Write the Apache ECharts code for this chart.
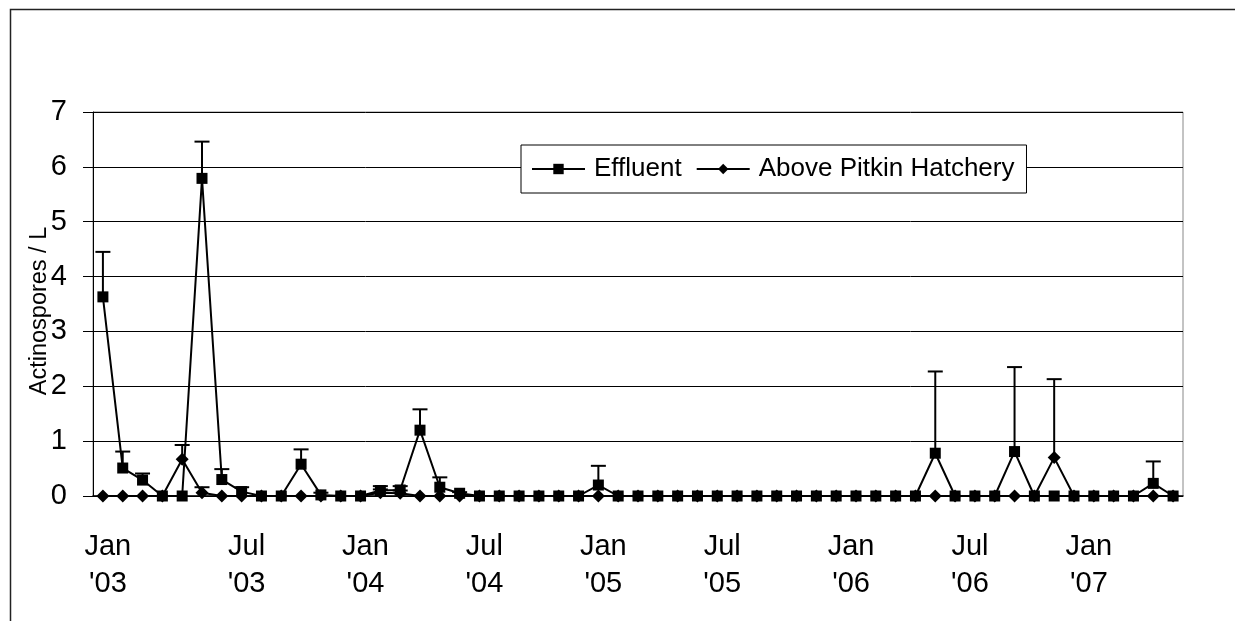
<!DOCTYPE html>
<html><head><meta charset="utf-8">
<script src="https://cdn.jsdelivr.net/npm/echarts@6/dist/echarts.min.js"></script>
<style>html,body{margin:0;padding:0;background:#fff}#c{width:1235px;height:621px}</style>
</head><body><div id="c"></div>
<script>
// 55 sampling occasions, Jan 2003 - spring 2007
const samples = Array.from({length:55}, (_, i) => 'S' + (i + 1));
// tick labels: half-sample resolution slots (110), only half-year labels shown
const tickLabelSlots = [
  "","Jan\n'03","","","","","","","","","","","","","","Jul\n'03","","","","",
  "","","","","","","","Jan\n'04","","","","","","","","","","","","Jul\n'04",
  "","","","","","","","","","","","Jan\n'05","","","","","","","","",
  "","","","Jul\n'05","","","","","","","","","","","","","Jan\n'06","","","",
  "","","","","","","","","Jul\n'06","","","","","","","","","","","",
  "Jan\n'07","","","","","","","","",""
];
const effluent = [
  3.63,0.51,0.29,0,0,5.79,0.30,0.08,0,0,0.58,0.02,0,0,0.10,0.11,1.20,0.16,0.05,0,
  0,0,0,0,0,0.20,0,0,0,0,0,0,0,0,0,0,0,0,0,0,
  0,0,0.78,0,0,0,0.81,0,0,0,0,0,0,0.23,0
];
const effluentErr = [
  0.82,0.30,0.12,0,0,0.67,0.19,0.08,0,0,0.27,0.04,0,0,0.08,0.07,0.38,0.18,0.02,0,
  0,0,0,0,0,0.35,0,0,0,0,0,0,0,0,0,0,0,0,0,0,
  0,0,1.49,0,0,0,1.54,0,0,0,0,0,0,0.40,0
];
const above = [
  0,0,0,0,0.67,0.06,0,0,0,0,0,0,0,0,0.06,0.05,0,0,0,0,
  0,0,0,0,0,0,0,0,0,0,0,0,0,0,0,0,0,0,0,0,
  0,0,0,0,0,0,0,0,0.70,0,0,0,0,0,0
];
const aboveErr = [
  0,0,0,0,0.26,0.10,0,0,0,0,0,0,0,0,0.06,0.05,0,0,0,0,
  0,0,0,0,0,0,0,0,0,0,0,0,0,0,0,0,0,0,0,0,
  0,0,0,0,0,0,0,0,1.43,0,0,0,0,0,0
];
const yMin = 0, yMax = 7, yStep = 1;

const FONT = 'Liberation Sans, Arial, sans-serif';
function errData(vals, errs){ return vals.map((v,i)=>[i, v, errs[i]]); }
function errRender(params, api){
  const i = api.value(0), v = api.value(1), e = api.value(2);
  if (!(e > 0)) return null;
  const p0 = api.coord([i, v]);
  const p1 = api.coord([i, v + e]);
  const hw = 7.5;
  return {type:'group', children:[
    {type:'line', shape:{x1:p0[0],y1:p0[1],x2:p1[0],y2:p1[1]}, style:{stroke:'#000',lineWidth:2}},
    {type:'line', shape:{x1:p1[0]-hw,y1:p1[1],x2:p1[0]+hw,y2:p1[1]}, style:{stroke:'#000',lineWidth:2}}
  ]};
}
const chart = echarts.init(document.getElementById('c'), null, {renderer:'canvas'});
chart.setOption({
  animation:false,
  backgroundColor:'#fff',
  textStyle:{fontFamily:FONT},
  graphic:[{type:'rect', left:8, top:7, shape:{width:1300,height:700}, style:{fill:'none',stroke:'#222',lineWidth:1.5}, silent:true}],
  grid:{left:93, right:52, top:112, bottom:125, show:true, borderColor:'#888', borderWidth:1, backgroundColor:'transparent'},
  legend:{
    data:['Effluent','Above Pitkin Hatchery'],
    left:521, top:145, padding:[11,12,11,10],
    itemWidth:53, itemHeight:13, itemGap:14,
    backgroundColor:'#fff', borderColor:'#000', borderWidth:1,
    textStyle:{fontSize:26, color:'#000', fontFamily:FONT, padding:[0,0,0,4]},
    lineStyle:{width:2}
  },
  xAxis:[{
    type:'category', data:samples, boundaryGap:true,
    axisLine:{lineStyle:{color:'#000', width:1.5}},
    axisTick:{interval:0, length:8, lineStyle:{color:'#777'}},
    axisLabel:{show:false},
    splitLine:{show:false}
  },{
    type:'category', data:tickLabelSlots, boundaryGap:true, position:'bottom',
    axisLine:{show:false}, axisTick:{show:false}, splitLine:{show:false},
    axisLabel:{interval:0, fontSize:29, lineHeight:37, margin:32, color:'#000', fontFamily:FONT}
  }],
  yAxis:{
    type:'value', min:yMin, max:yMax, interval:yStep,
    name:'Actinospores / L', nameLocation:'middle', nameGap:41, nameMoveOverlap:false,
    nameTextStyle:{fontSize:23.5, color:'#000', fontFamily:FONT, padding:[0,14,0,0]},
    axisLine:{show:true, lineStyle:{color:'#000', width:1}},
    axisTick:{show:true, length:10, lineStyle:{color:'#000'}},
    axisLabel:{fontSize:29, margin:26, color:'#000', fontFamily:FONT},
    splitLine:{lineStyle:{color:'#000', width:1}}
  },
  series:[
    {name:'Above Pitkin Hatchery', type:'line', data:above, symbol:'diamond', symbolSize:13,
     itemStyle:{color:'#000'}, lineStyle:{color:'#000', width:2}, z:3},
    {name:'Effluent', type:'line', data:effluent, symbol:'rect', symbolSize:11,
     itemStyle:{color:'#000'}, lineStyle:{color:'#000', width:2}, z:4},
    {type:'custom', data:errData(effluent, effluentErr), renderItem:errRender, z:5, silent:true},
    {type:'custom', data:errData(above, aboveErr), renderItem:errRender, z:5, silent:true}
  ]
});
</script></body></html>
